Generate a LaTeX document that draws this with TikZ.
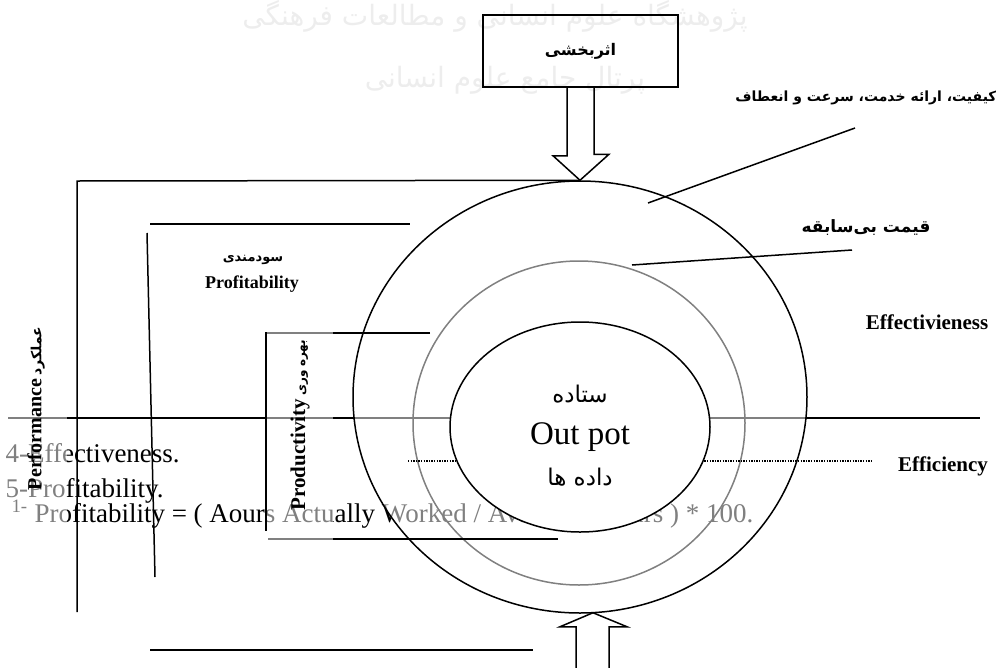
\documentclass[tikz,border=0pt]{standalone}
\usepackage{fontspec}
\setmainfont{Liberation Serif}
\newfontfamily\fa[Script=Arabic]{DejaVu Sans}
\TeXXeTstate=1
\usetikzlibrary{calc, positioning, shapes.geometric}
\tikzset{
    rule/.style={line width=1.5pt},
    veil/.style={fill=white, fill opacity=0.5, text opacity=1},
    hollow/.style={draw, line width=1.5pt},
    enlabel/.style={font=\bfseries\fontsize{21}{24}\selectfont},
    falabel/.style={font=\fa\bfseries\fontsize{14}{17}\selectfont},
    foot/.style={anchor=base west, font=\fontsize{27}{30}\selectfont}
}

\begin{document}
\begin{tikzpicture}[x=1pt, y=-1pt]
    \useasboundingbox (0,0) rectangle (996,667);
    % watermark
    \node[text=black!7, font=\fa\fontsize{28}{30}\selectfont] (wmA) at (495,16) {\beginR پژوهشگاه علوم انسانی و مطالعات فرهنگی\endR};
    \node[text=black!7, font=\fa\fontsize{28}{30}\selectfont] (wmB) at (505,80) {\beginR پرتال جامع علوم انسانی\endR};
    % footnotes, under the veils
    \node[foot] (fnA) at (2,462) {4-Effectiveness.};
    \node[foot] (fnB) at (2,497) {5-Profitability.};
    \node[foot] (fnC) at (8,522) {\textsuperscript{1-} Profitability = ( Aours Actually Worked / Available Hours ) * 100.};
    \coordinate (axL) at (8,418);
    \coordinate (axR) at (980,418);
    \draw[rule] (axL) -- (axR);
    % circles
    \node[ellipse, draw, rule, minimum width=332, minimum height=324] (ring) at (579,423) {};
    \node[ellipse, draw, rule, veil, minimum width=454, minimum height=432] (outer) at (580,397) {};
    % productivity bracket
    \coordinate (prA) at (430,333);
    \coordinate (prB) at (266,333);
    \coordinate (prC) at (266,531);
    \coordinate (prD) at (268,539);
    \coordinate (prE) at (558,539);
    \draw[rule] (prA) -- (prB) -- (prC);
    \draw[rule] (prD) -- (prE);
    \node[veil, rotate=90, minimum width=220, minimum height=66, text width=200, align=right, inner xsep=10] (prod) at (300,440)
        {\bfseries\fontsize{21}{24}\selectfont Productivity {\fa\fontsize{12}{14}\selectfont\beginR بهره وری\endR}};
    \node[veil, rotate=90, minimum width=228, minimum height=62, text width=208, align=right, inner xsep=10] (perf) at (36,431)
        {\bfseries\fontsize{20}{24}\selectfont Performance {\fa\fontsize{14}{16}\selectfont\beginR عملکرد\endR}};
    % performance bracket
    \coordinate (pfB) at (77,612);
    \coordinate (pfT) at (77,181);
    \draw[rule] (pfB) -- (pfT) -- (outer.north);
    % profitability bracket
    \coordinate (pbA) at (150,224);
    \coordinate (pbB) at (410,224);
    \coordinate (pbC) at (147,233);
    \coordinate (pbD) at (155,577);
    \draw[rule] (pbA) -- (pbB);
    \draw[rule] (pbC) -- (pbD);
    \node[falabel, font=\fa\bfseries\fontsize{13}{15}\selectfont] (sud) at (253,260) {\beginR سودمندی\endR};
    \node[enlabel, font=\bfseries\fontsize{18}{20}\selectfont] (profit) at (252,284) {Profitability};
    % labels on the right
    \node[falabel] (quality) at (866,98) {\beginR کیفیت، ارائه خدمت، سرعت و انعطاف\endR};
    \coordinate (qlTip) at (855,128);
    \coordinate (qlIn) at (648,203);
    \draw[rule] (qlTip) -- (qlIn);
    \node[falabel, font=\fa\bfseries\fontsize{17}{20}\selectfont] (price) at (866,228) {\beginR قیمت بی‌سابقه\endR};
    \coordinate (prTip) at (852,250);
    \coordinate (prIn) at (632,265);
    \draw[rule] (prTip) -- (prIn);
    \node[enlabel] (effect) at (927,322) {Effectivieness};
    \node[enlabel] (effic) at (943,466) {Efficiency};
    \coordinate (dtL) at (408,461);
    \coordinate (dtR) at (871,461);
    \draw[line width=1.3pt, dash pattern=on 1.3pt off 1.3pt] (dtL) -- (dtR);
    % inner circle
    \node[ellipse, draw, rule, fill=white, minimum width=260, minimum height=210] (core) at (580,427) {};
    \node[font=\fa\fontsize{23}{25}\selectfont] (outA) at (580,394) {\beginR ستاده\endR};
    \node[font=\fontsize{33}{35}\selectfont] (outB) at (580,437) {Out pot};
    \node[font=\fa\fontsize{23}{25}\selectfont] (outC) at (580,477) {\beginR داده ها\endR};
    % influence box and arrows
    \node[draw, rule, minimum width=195, minimum height=72, font=\fa\bfseries\fontsize{16}{18}\selectfont] (infl) at (580.5,51) {\beginR اثربخشی\endR};
    \draw[hollow] ($(infl.south)+(-13.5,0)$) -- ++(0,68) -- ++(-14,0) -- (outer.north)
        -- ($(outer.north)+(29,-26)$) -- ++(-15,0) -- ($(infl.south)+(13.5,0)$);
    \coordinate (baseTip) at ($(outer.south)+(13,-1)$);
    \draw[hollow] ($(baseTip)+(-17,58)$) -- ++(0,-44) -- ++(-16,0) -- (baseTip)
        -- ++(34,14) -- ++(-18,0) -- ++(0,44);
    \coordinate (blA) at (150,650);
    \coordinate (blB) at (533,650);
    \draw[rule] (blA) -- (blB);
\end{tikzpicture}
\end{document}
